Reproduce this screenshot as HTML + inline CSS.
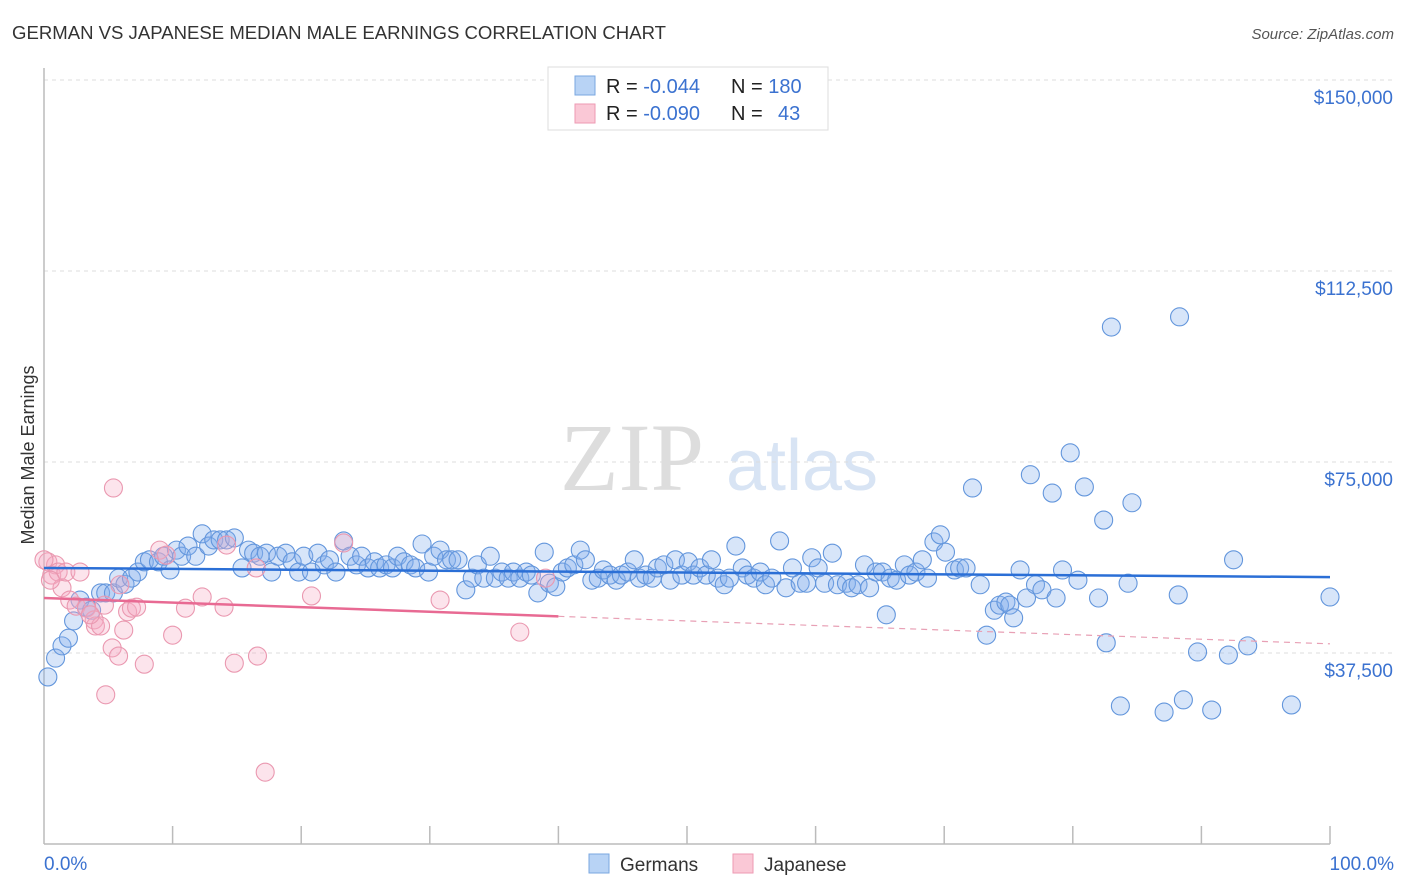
<!DOCTYPE html>
<html><head><meta charset="utf-8"><style>
body{margin:0;background:#fff;}
svg{display:block;font-family:"Liberation Sans",sans-serif;}
</style></head><body>
<svg id="chart" width="1406" height="892" viewBox="0 0 1406 892">
<text x="12" y="39" font-size="18" fill="#333" textLength="654" lengthAdjust="spacingAndGlyphs">GERMAN VS JAPANESE MEDIAN MALE EARNINGS CORRELATION CHART</text>
<text x="1394" y="39" font-size="15" fill="#555" font-style="italic" text-anchor="end">Source: ZipAtlas.com</text>
<g>
<text x="632" y="490" font-size="96" fill="#ddd" text-anchor="middle" font-family="Liberation Serif,serif">ZIP</text>
<text x="802" y="490" font-size="72" fill="#d8e4f4" text-anchor="middle">atlas</text>
</g>
<g id="grid"></g>
<g id="axes"></g>
<g id="pts"></g>
<g id="trends"></g>
<text transform="translate(34,455) rotate(-90)" font-size="18" fill="#333" text-anchor="middle">Median Male Earnings</text>
<g>
<rect x="548" y="67" width="280" height="63" fill="#fff" stroke="#ddd"/>
<rect x="575" y="76" width="20" height="19" fill="#b8d3f5" stroke="#7aa7e0"/>
<rect x="575" y="104" width="20" height="19" fill="#fac8d6" stroke="#ee9ab3"/>
<text x="606" y="93" font-size="20" fill="#222">R = <tspan fill="#3b72d0">-0.044</tspan><tspan x="731">N = </tspan><tspan fill="#3b72d0">180</tspan></text>
<text x="606" y="120" font-size="20" fill="#222">R = <tspan fill="#3b72d0">-0.090</tspan><tspan x="731">N = </tspan><tspan fill="#3b72d0" x="778">43</tspan></text>
</g>
<g>
<rect x="589" y="854" width="20" height="19" fill="#b8d3f5" stroke="#7aa7e0"/>
<text x="620" y="871" font-size="19" fill="#333">Germans</text>
<rect x="733" y="854" width="20" height="19" fill="#fac8d6" stroke="#ee9ab3"/>
<text x="764" y="871" font-size="19" fill="#333">Japanese</text>
</g>
<text x="44" y="870" font-size="19" fill="#3b72d0">0.0%</text>
<text x="1394" y="870" font-size="19" fill="#3b72d0" text-anchor="end">100.0%</text>
</svg>
<script>
const yTicks=[37500,75000,112500,150000];
const yTickLabels=["$37,500","$75,000","$112,500","$150,000"];
const germanX=[0.3,0.9,1.4,1.9,2.3,2.8,3.3,3.7,4.4,4.8,5.4,5.8,6.3,6.8,7.3,7.8,8.2,8.9,9.3,9.8,10.3,10.7,11.2,11.8,12.3,12.8,13.2,13.7,14.2,14.8,15.4,15.9,16.3,16.8,17.3,17.7,18.2,18.8,19.3,19.8,20.2,20.8,21.3,21.8,22.2,22.7,23.3,23.8,24.3,24.7,25.2,25.7,26.1,26.6,27.1,27.5,28.0,28.5,28.9,29.4,29.9,30.3,30.8,31.3,31.7,32.2,32.8,33.3,33.7,34.2,34.7,35.1,35.6,36.1,36.5,37.0,37.5,37.9,38.4,38.9,39.3,39.8,40.3,40.7,41.2,41.7,42.1,42.6,43.1,43.5,44.0,44.5,44.9,45.4,45.9,46.3,46.8,47.3,47.7,48.2,48.7,49.1,49.6,50.1,50.5,51.0,51.5,51.9,52.4,52.9,53.3,53.8,54.3,54.7,55.2,55.7,56.1,56.6,57.2,57.7,58.2,58.8,59.3,59.7,60.2,60.7,61.3,61.7,62.4,62.8,63.3,63.8,64.2,64.7,65.2,65.5,65.8,66.3,66.9,67.3,67.8,68.3,68.7,69.2,69.7,70.1,70.8,71.2,71.7,72.2,72.8,73.3,73.9,74.3,74.8,75.1,75.4,75.9,76.4,76.7,77.1,77.6,78.4,78.7,79.2,79.8,80.4,80.9,82.0,82.4,82.6,83.0,83.7,84.3,84.6,87.1,88.2,88.3,88.6,89.7,90.8,92.1,92.5,93.6,97.0,100.0];
const germanY=[32.8,36.5,38.9,40.4,43.8,47.9,46.5,45.9,49.3,49.3,49.3,52.2,51.0,52.2,53.4,55.4,55.8,55.4,56.5,53.8,57.7,56.5,58.5,56.5,60.9,58.5,59.7,59.7,59.7,60.1,54.2,57.7,57.1,56.5,57.1,53.4,56.5,57.1,55.4,53.4,56.5,53.4,57.1,54.8,55.8,53.4,59.5,56.5,54.8,56.5,54.2,55.4,54.2,54.8,54.2,56.5,55.4,54.8,54.2,58.9,53.4,56.5,57.7,55.8,55.8,55.8,49.9,52.2,54.8,52.2,56.5,52.2,53.4,52.2,53.4,52.2,53.4,52.8,49.3,57.3,51.2,50.5,53.4,54.2,54.8,57.7,55.8,51.8,52.2,53.8,52.8,51.8,52.8,53.4,55.8,52.2,52.8,52.2,54.2,54.8,51.8,55.8,52.8,55.4,52.8,54.2,52.8,55.8,52.2,50.9,52.2,58.5,54.2,52.8,52.2,53.4,50.9,52.2,59.5,50.3,54.2,51.2,51.2,56.2,54.2,51.2,57.1,50.9,51.2,50.3,50.9,54.8,50.3,53.4,53.4,45.0,52.2,51.8,54.8,52.8,53.4,55.8,52.2,59.3,60.7,57.3,53.8,54.2,54.2,69.9,50.9,41.0,45.9,46.9,47.5,46.9,44.4,53.8,48.3,72.5,50.9,49.9,68.9,48.3,53.8,76.8,51.8,70.1,48.3,63.6,39.5,101.5,27.1,51.2,67.0,25.9,48.9,103.5,28.3,37.7,26.3,37.1,55.8,38.9,27.3,48.5];
const japanX=[0.3,0.6,0.9,1.1,1.4,1.7,2.0,2.5,2.8,3.3,3.9,4.0,4.4,4.7,4.8,5.3,5.4,5.8,5.9,6.2,6.5,6.8,7.2,7.8,9.0,9.5,10.0,11.0,12.3,14.0,14.2,14.8,16.5,16.6,17.2,20.8,23.3,30.8,37.0,39.0,0.0,0.5,3.6];
const japanY=[55.4,52.8,54.8,53.4,50.3,53.4,47.9,46.7,53.4,46.3,44.0,42.8,42.8,46.9,29.3,38.5,69.9,36.9,50.9,42.0,45.6,46.3,46.5,35.3,57.7,56.7,41.0,46.3,48.5,46.5,58.7,35.5,54.2,36.9,14.1,48.7,59.1,47.9,41.6,52.2,55.8,51.8,45.0];
const germanTrend=[54.2,52.4];
const japanTrend=[48.3,39.3];
const japanSolidEnd=40;

const NS="http://www.w3.org/2000/svg";
const X0=44,X1=1330,YB=844,YTOP=80;
function xs(p){return X0+(X1-X0)*p/100;}
function ys(v){return YB-(YB-YTOP)*v/150000;}
function mk(tag,attrs,parent){const e=document.createElementNS(NS,tag);for(const k in attrs)e.setAttribute(k,attrs[k]);parent.appendChild(e);return e;}
const grid=document.getElementById('grid'),axes=document.getElementById('axes'),pts=document.getElementById('pts'),tr=document.getElementById('trends');
yTicks.forEach((t,i)=>{
 const l=mk('line',{x1:X0,x2:1393,y1:ys(t),y2:ys(t),stroke:'#ddd','stroke-dasharray':'4,4'},grid);
 
 
 const tx=mk('text',{x:1393,y:ys(t)+24,'font-size':19,fill:'#3b72d0','text-anchor':'end'},grid);
 tx.textContent=yTickLabels[i];
 
 
});
const ya=mk('line',{x1:X0,x2:X0,y1:68,y2:YB,stroke:'#bbb','stroke-width':1.5},axes);


const xa=mk('line',{x1:X0,x2:X1,y1:YB,y2:YB,stroke:'#bbb','stroke-width':1.5},axes);


for(let k=1;k<=10;k++){
 const p=k*10;
 const t=mk('line',{x1:xs(p),x2:xs(p),y1:YB-18,y2:YB,stroke:'#bbb','stroke-width':1.5},axes);
 
 
}
germanX.forEach((p,i)=>{
 const c=mk('circle',{cx:xs(p),cy:ys(germanY[i]*1000),r:9,fill:'rgba(130,175,235,0.32)',stroke:'#6396dc','stroke-width':1.1},pts);
 
 
});
japanX.forEach((p,i)=>{
 const c=mk('circle',{cx:xs(p),cy:ys(japanY[i]*1000),r:9,fill:'rgba(245,170,195,0.32)',stroke:'#ea98b0','stroke-width':1.1},pts);
 
 
});
const gt=mk('line',{x1:xs(0),y1:ys(germanTrend[0]*1000),x2:xs(100),y2:ys(germanTrend[1]*1000),stroke:'#2b6fd6','stroke-width':2.5},tr);


const jm=japanTrend[0]+(japanTrend[1]-japanTrend[0])*japanSolidEnd/100;
const jt=mk('line',{x1:xs(0),y1:ys(japanTrend[0]*1000),x2:xs(japanSolidEnd),y2:ys(jm*1000),stroke:'#e86a93','stroke-width':2.5},tr);


const jd=mk('line',{x1:xs(japanSolidEnd),y1:ys(jm*1000),x2:xs(100),y2:ys(japanTrend[1]*1000),stroke:'#e8a0b5','stroke-width':1.2,'stroke-dasharray':'6,5'},tr);


</script>
</body></html>
